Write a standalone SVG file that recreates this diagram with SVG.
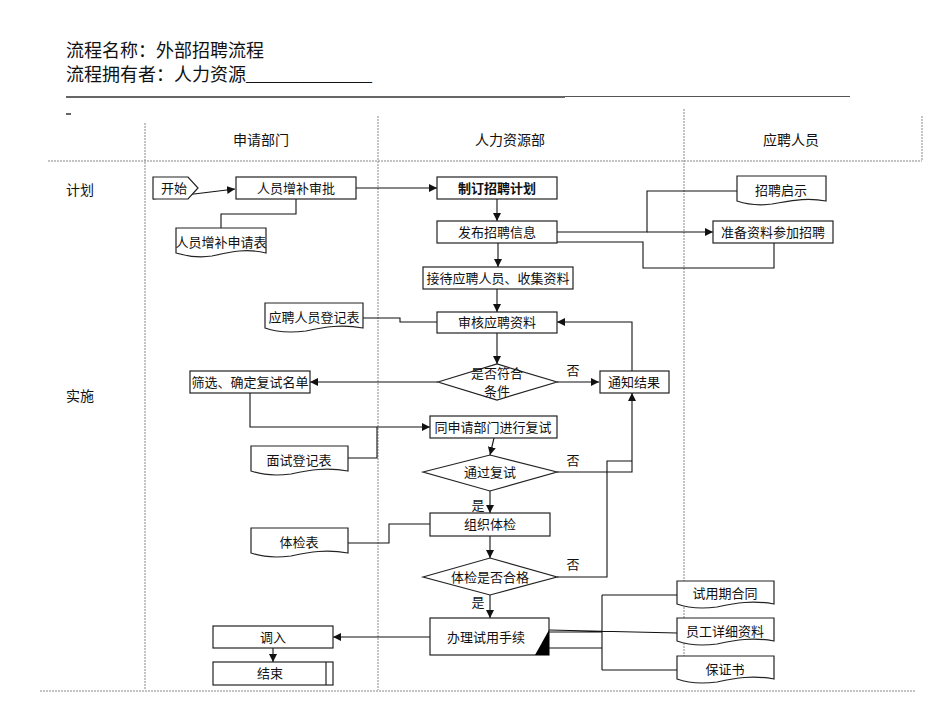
<svg xmlns="http://www.w3.org/2000/svg" width="950" height="713" viewBox="0 0 950 713">
<style>
text{font-family:"Liberation Serif","Noto Sans CJK SC",serif;fill:#111}
.t{font-size:13px;text-anchor:middle}
.b{fill:#fff;stroke:#222;stroke-width:1.2}
.c{fill:none;stroke:#111;stroke-width:1.1}
.d{fill:none;stroke:#888;stroke-width:1;stroke-dasharray:2 1}
</style>
<defs>
<marker id="a" viewBox="0 0 10 10" refX="10" refY="5" markerWidth="8" markerHeight="8" markerUnits="userSpaceOnUse" orient="auto"><path d="M0,0 L10,5 L0,10 Z" fill="#111"/></marker>
</defs>
<rect width="950" height="713" fill="#fff"/>
<g id="header">
<text x="66" y="57" style="font-size:18px">流程名称：外部招聘流程</text>
<text x="66" y="81" style="font-size:18px">流程拥有者：人力资源______________</text>
<line x1="66" y1="97" x2="565" y2="97" stroke="#333" stroke-width="1.5"/>
<line x1="565" y1="96.5" x2="850" y2="96.5" stroke="#555" stroke-width="1"/>
<line x1="66" y1="114" x2="71" y2="114" stroke="#333" stroke-width="1.5"/>
</g>
<g id="lanes">
<line class="d" x1="145" y1="123" x2="145" y2="690"/>
<line class="d" x1="378" y1="116" x2="378" y2="690"/>
<line class="d" x1="684" y1="109" x2="684" y2="677"/>
<line class="d" x1="922" y1="116" x2="922" y2="160"/>
<line class="d" x1="48" y1="161" x2="922" y2="161"/>
<line class="d" x1="40" y1="691" x2="915" y2="691"/>
<text class="t" x="261" y="145" style="font-size:14px">申请部门</text>
<text class="t" x="510" y="145" style="font-size:14px">人力资源部</text>
<text class="t" x="791" y="145" style="font-size:14px">应聘人员</text>
<text x="66" y="195" style="font-size:14px">计划</text>
<text x="66" y="401" style="font-size:14px">实施</text>
</g>
<g id="connectors">
<path class="c" d="M153,199 L235,189" marker-end="url(#a)"/>
<path class="c" d="M356,188 H437" marker-end="url(#a)"/>
<path class="c" d="M296,199 V214 H221 V228"/>
<path class="c" d="M497,199 V221" marker-end="url(#a)"/>
<path class="c" d="M557,232 H647 V191 H737"/>
<path class="c" d="M647,232 H713" marker-end="url(#a)"/>
<path class="c" d="M557,242 H643 V268 H774 V243"/>
<path class="c" d="M498,243 V267" marker-end="url(#a)"/>
<path class="c" d="M497,289 V312" marker-end="url(#a)"/>
<path class="c" d="M363,318 H400 V322 H437"/>
<path class="c" d="M497,333 V364" marker-end="url(#a)"/>
<path class="c" d="M438,382 H310" marker-end="url(#a)"/>
<path class="c" d="M557,382 H599" marker-end="url(#a)"/>
<path class="c" d="M632,371 V322 H557" marker-end="url(#a)"/>
<path class="c" d="M250,393 V427 H430" marker-end="url(#a)"/>
<path class="c" d="M348,458 H377 V427"/>
<path class="c" d="M494,438 L490,455" marker-end="url(#a)"/>
<path class="c" d="M557,472 H632 V393" marker-end="url(#a)"/>
<path class="c" d="M557,577 H607 V461 H632"/>
<path class="c" d="M490,491 V513" marker-end="url(#a)"/>
<path class="c" d="M348,543 H389 V524 H430"/>
<path class="c" d="M490,536 V558" marker-end="url(#a)"/>
<path class="c" d="M490,595 V618" marker-end="url(#a)"/>
<path class="c" d="M430,637 H333" marker-end="url(#a)"/>
<path class="c" d="M273,648 V662" marker-end="url(#a)"/>
<path class="c" d="M549,630 L677,633 M549,632 H602 M549,648 H602 M602,595 V670 M602,595 H677 M602,670 H677"/>
<text class="t" x="573" y="375">否</text>
<text class="t" x="573" y="465">否</text>
<text class="t" x="573" y="569">否</text>
<text class="t" x="478" y="510">是</text>
<text class="t" x="478" y="607">是</text>
</g>
<g id="n_start"><path class="b" d="M153,177 H188 L198,188 L188,199 H153 Z"/><text class="t" x="174" y="193">开始</text></g>
<g id="n_approve"><rect class="b" x="236" y="177" width="120" height="22"/><text class="t" x="296" y="193">人员增补审批</text></g>
<g id="n_form"><path class="b" d="M176,228 H266 V253 C246,248 230,252 212,256 C198,258 186,256 176,253 Z"/><text class="t" x="221" y="247">人员增补申请表</text></g>
<g id="n_plan"><rect class="b" x="437" y="177" width="120" height="22" stroke-width="1.6"/><text class="t" x="497" y="193" font-weight="bold">制订招聘计划</text></g>
<g id="n_publish"><rect class="b" x="437" y="221" width="120" height="22"/><text class="t" x="497" y="237">发布招聘信息</text></g>
<g id="n_notice"><path class="b" d="M737,176 H826 V201 C806,197 790,201 772,204 C758,206 746,204 737,201 Z"/><text class="t" x="781" y="195">招聘启示</text></g>
<g id="n_prepare"><rect class="b" x="713" y="221" width="120" height="22"/><text class="t" x="773" y="237">准备资料参加招聘</text></g>
<g id="n_receive"><rect class="b" x="423" y="267" width="150" height="22"/><text class="t" x="498" y="283">接待应聘人员、收集资料</text></g>
<g id="n_review"><rect class="b" x="437" y="312" width="120" height="21"/><text class="t" x="497" y="327">审核应聘资料</text></g>
<g id="n_regform"><path class="b" d="M265,303 H363 V328 C341,324 325,327 306,331 C290,333 276,332 265,328 Z"/><text class="t" x="314" y="322">应聘人员登记表</text></g>
<g id="n_cond"><path class="b" d="M438,382 L497,364 L557,382 L497,400 Z"/><text class="t" x="497" y="378">是否符合</text><text class="t" x="497" y="396">条件</text></g>
<g id="n_screen"><rect class="b" x="190" y="371" width="120" height="22"/><text class="t" x="250" y="387">筛选、确定复试名单</text></g>
<g id="n_result"><rect class="b" x="600" y="371" width="69" height="22"/><text class="t" x="634" y="387">通知结果</text></g>
<g id="n_interview"><rect class="b" x="430" y="416" width="127" height="22"/><text class="t" x="493" y="432">同申请部门进行复试</text></g>
<g id="n_ivform"><path class="b" d="M251,446 H348 V471 C326,467 310,470 291,474 C275,476 262,475 251,471 Z"/><text class="t" x="299" y="465">面试登记表</text></g>
<g id="n_pass"><path class="b" d="M423,472 L490,455 L557,472 L490,491 Z"/><text class="t" x="490" y="477">通过复试</text></g>
<g id="n_exam"><rect class="b" x="430" y="513" width="120" height="23"/><text class="t" x="490" y="529">组织体检</text></g>
<g id="n_examform"><path class="b" d="M251,528 H348 V553 C326,549 310,552 291,556 C275,558 262,557 251,553 Z"/><text class="t" x="299" y="547">体检表</text></g>
<g id="n_examok"><path class="b" d="M423,577 L490,558 L557,577 L490,595 Z"/><text class="t" x="490" y="582">体检是否合格</text></g>
<g id="n_trial"><rect class="b" x="430" y="618" width="119" height="37"/><path d="M535,655 L549,630 L549,655 Z" fill="#000"/><text class="t" x="486" y="642">办理试用手续</text></g>
<g id="n_transfer"><rect class="b" x="213" y="626" width="120" height="22"/><text class="t" x="273" y="642">调入</text></g>
<g id="n_end"><rect class="b" x="213" y="662" width="120" height="23"/><line x1="326" y1="662" x2="326" y2="685" stroke="#222" stroke-width="1.2"/><text class="t" x="270" y="678">结束</text></g>
<g id="n_contract"><path class="b" d="M677,581 H774 V604 C752,600 736,603 717,607 C701,609 688,608 677,604 Z"/><text class="t" x="725" y="598">试用期合同</text></g>
<g id="n_detail"><path class="b" d="M677,618 H774 V641 C752,637 736,640 717,644 C701,646 688,645 677,641 Z"/><text class="t" x="725" y="636">员工详细资料</text></g>
<g id="n_guarantee"><path class="b" d="M677,656 H774 V679 C752,675 736,678 717,682 C701,684 688,683 677,679 Z"/><text class="t" x="725" y="674">保证书</text></g>
</svg>
